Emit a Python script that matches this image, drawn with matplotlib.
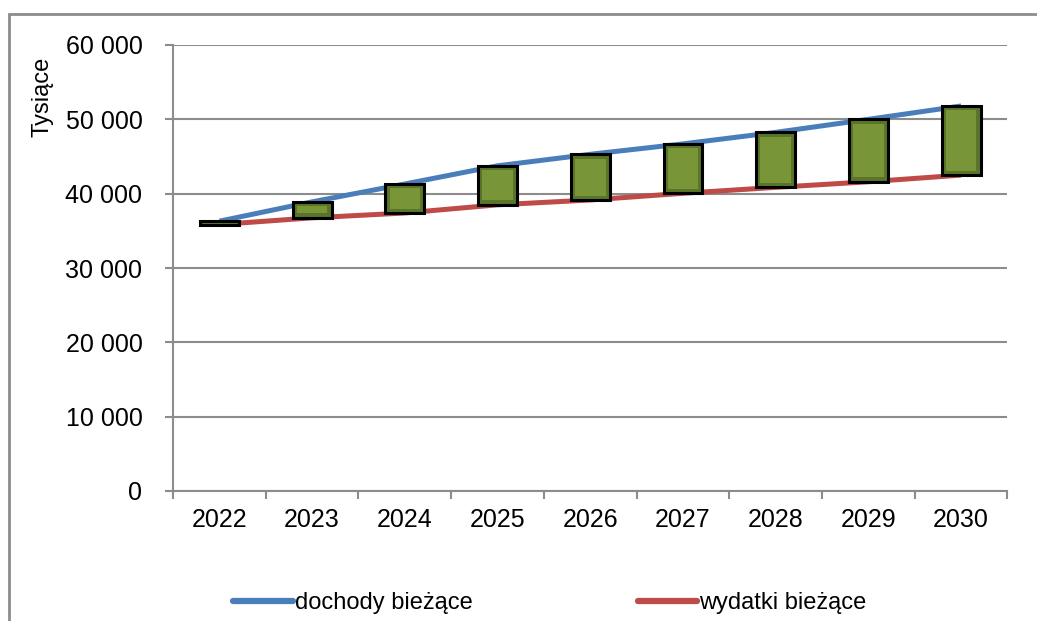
import numpy as np
import matplotlib
matplotlib.use('Agg')
from matplotlib import pyplot as plt
from matplotlib.lines import Line2D
from matplotlib.patches import Rectangle

plt.rcParams['font.family'] = ['Liberation Sans', 'DejaVu Sans']

years = ['2022', '2023', '2024', '2025', '2026', '2027', '2028', '2029', '2030']
dochody = [36300, 38900, 41300, 43750, 45300, 46700, 48250, 50000, 51800]
wydatki = [35850, 36750, 37400, 38500, 39150, 40050, 40850, 41600, 42500]

grid_col = '#8c8c8c'
blue = '#4a7ebb'
red = '#be4b48'

fig = plt.figure(figsize=(10.37, 6.21), dpi=100)
ax = fig.add_axes([173 / 1037, 1 - 491 / 621, 834.5 / 1037, 446 / 621])

x = np.arange(len(years))
d = np.array(dochody)
w = np.array(wydatki)

ax.plot(x, d, color=blue, linewidth=3.6, solid_capstyle='butt', zorder=3)
ax.plot(x, w, color=red, linewidth=3.6, solid_capstyle='butt', zorder=3)

# up-down bars, darker rim + lighter centre for a bevel look
lo = np.minimum(d, w)
hi = np.maximum(d, w)
ax.bar(x, hi - lo, bottom=lo, width=0.42, color='#5a7429', edgecolor='black',
       linewidth=2.2, zorder=4)
inset = 600
h_in = hi - lo - 2 * inset
mask = h_in > 0
ax.bar(x[mask], h_in[mask], bottom=lo[mask] + inset, width=0.33,
       color='#789637', edgecolor='none', zorder=5)

ax.set_xlim(-0.5, len(years) - 0.5)
ax.set_ylim(0, 60000)
ax.set_yticks(np.arange(0, 60001, 10000))
ax.set_yticklabels(['0', '10 000', '20 000', '30 000', '40 000', '50 000', '60 000'])
ax.set_xticks(x)
ax.set_xticklabels(years)
ax.set_xticks(np.arange(-0.5, len(years)), minor=True)

ax.grid(axis='y', color=grid_col, linewidth=1.5, zorder=0)
ax.set_axisbelow(True)
for s in ['top', 'right']:
    ax.spines[s].set_visible(False)
for s in ['left', 'bottom']:
    ax.spines[s].set_color(grid_col)
    ax.spines[s].set_linewidth(1.5)

ax.tick_params(axis='y', which='major', length=6, width=1.5, color=grid_col,
               labelsize=18, pad=16)
ax.tick_params(axis='x', which='major', length=0, labelsize=18, pad=12)
ax.tick_params(axis='x', which='minor', length=6, width=1.5, color=grid_col)

fig.text(43 / 1037, 1 - 97 / 621, 'Tysiące', rotation=90, fontsize=17,
         ha='center', va='center')

handles = [Line2D([], [], color=blue, linewidth=4.5, solid_capstyle='round'),
           Line2D([], [], color=red, linewidth=4.5, solid_capstyle='round')]
fig.legend(handles, ['dochody bieżące', 'wydatki bieżące'], loc='center',
           bbox_to_anchor=(550 / 1037, 1 - 603 / 621), ncol=2, frameon=False,
           fontsize=17, handlelength=2.5, handletextpad=0.1, columnspacing=7.0)

fig.patches.append(Rectangle((9 / 1037, -0.1), 1.2, 1 - 14 / 621 + 0.1,
                             transform=fig.transFigure, fill=False,
                             edgecolor='#8c8c8c', linewidth=2.0))

fig.savefig('out.png', dpi=100)
